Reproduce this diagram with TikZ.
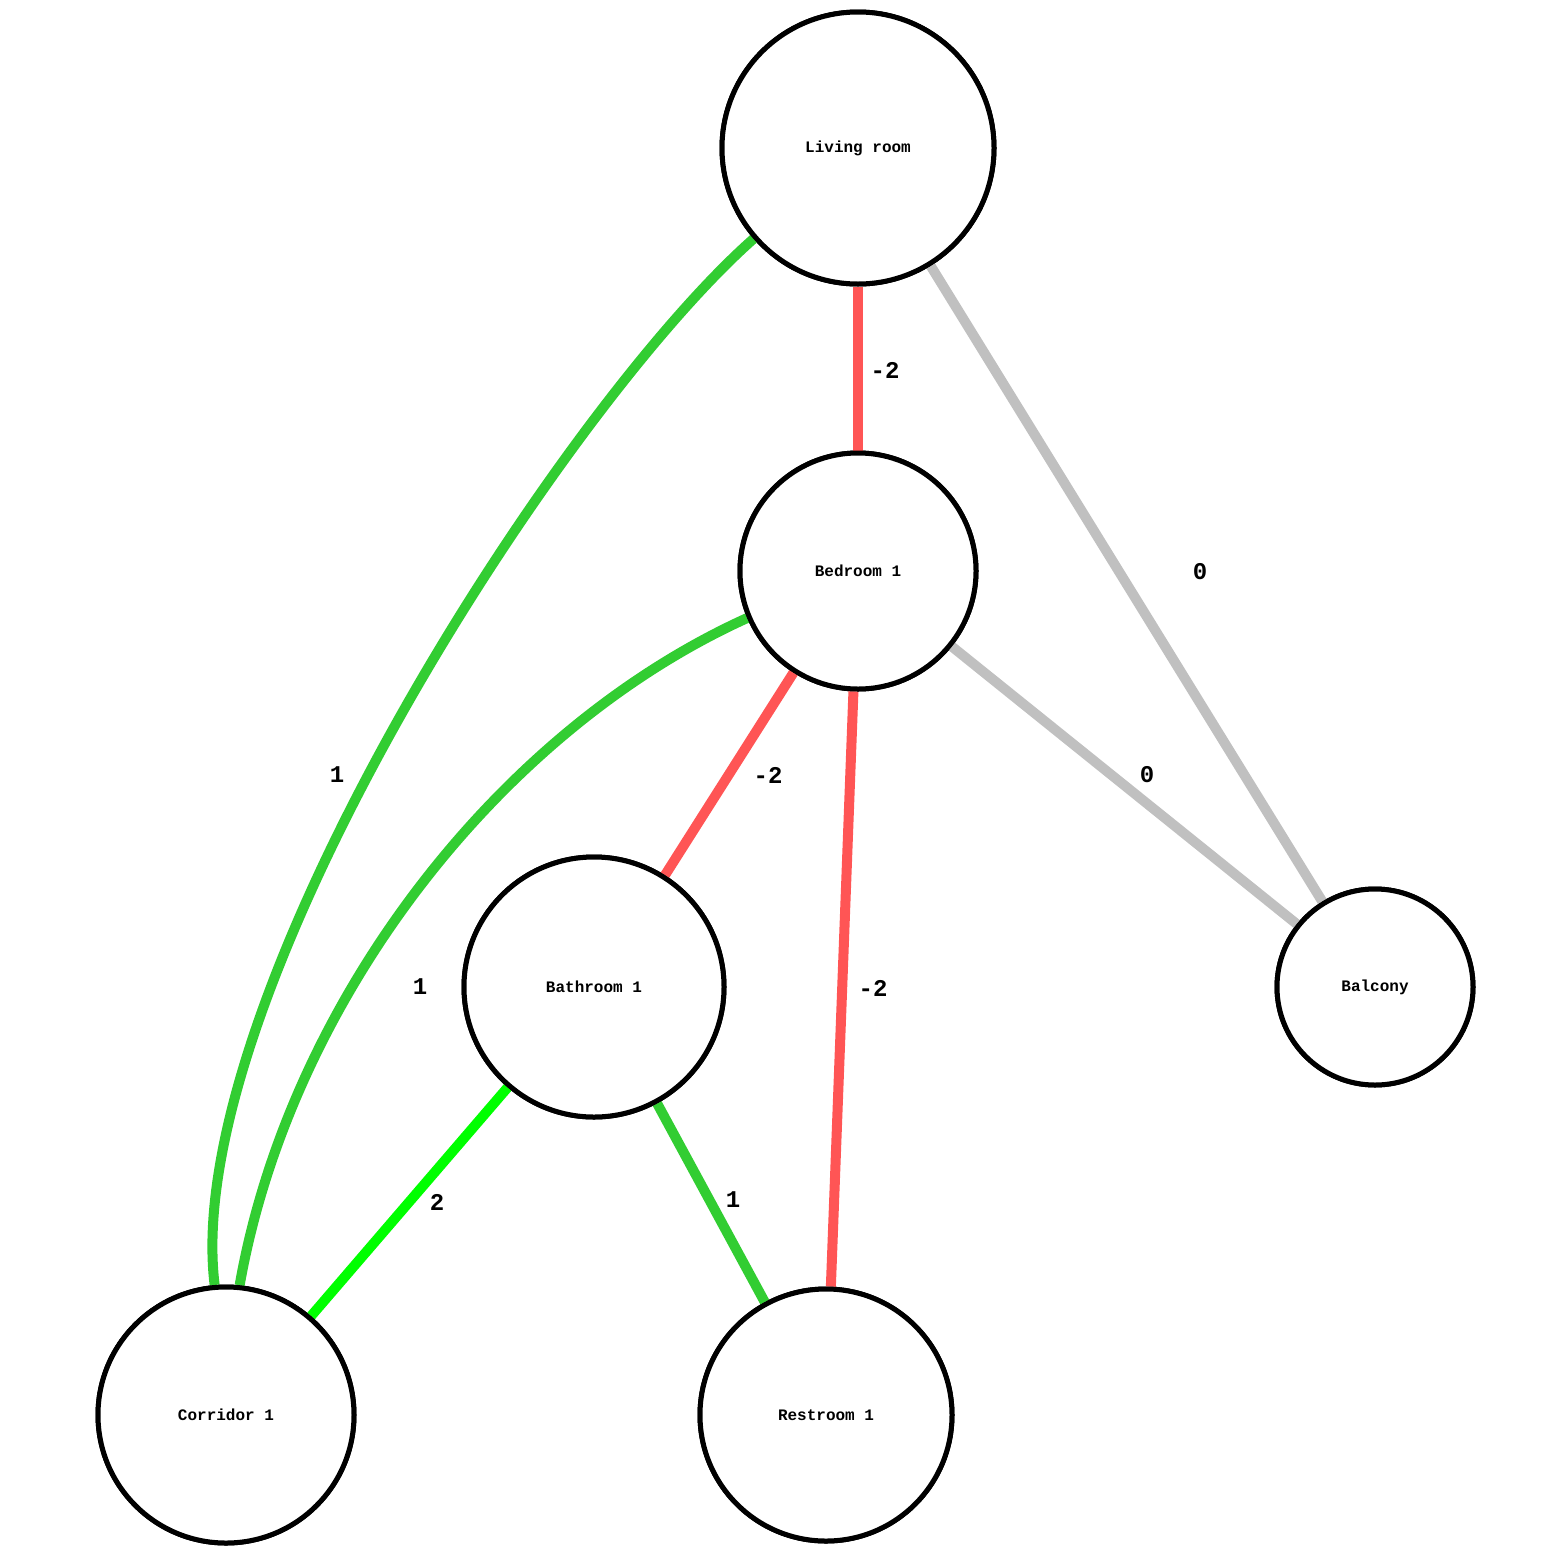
\documentclass[tikz,border=0pt]{standalone}
\usepackage{fontspec}
\setmainfont{Liberation Mono}
\definecolor{lg}{RGB}{50,205,50}
\definecolor{rd}{RGB}{255,85,85}
\definecolor{gy}{RGB}{192,192,192}
\definecolor{bg}{RGB}{0,255,0}
\begin{document}
\begin{tikzpicture}[x=1pt,y=-1pt,
  room/.style={circle,draw=black,line width=5pt,fill=white,inner sep=0pt,font=\bfseries\fontsize{16}{18}\selectfont},
  edge/.style={line width=10pt},
  lab/.style={font=\bfseries\fontsize{24}{26}\selectfont}]
\useasboundingbox (0,0) rectangle (1557,1558);
\node[room,minimum size=272pt] (lr) at (858,148) {Living room};
\node[room,minimum size=236pt] (b1) at (858,571) {Bedroom 1};
\node[room,minimum size=260pt] (ba) at (594,987) {Bathroom 1};
\node[room,minimum size=196pt] (bal) at (1375,987) {Balcony};
\node[room,minimum size=256pt] (co) at (226,1415) {Corridor 1};
\node[room,minimum size=252pt] (re) at (826,1415) {Restroom 1};
\begin{scope}[on background layer/.style={}]
\end{scope}
\draw[edge,lg] (lr.221) .. controls (560,410) and (180,1000) .. (co.95);
\draw[edge,lg] (b1.203) .. controls (500,730) and (290,1000) .. (co.84);
\draw[edge,rd] (lr) -- (b1);
\draw[edge,gy] (lr) -- (bal);
\draw[edge,rd] (b1) -- (ba);
\draw[edge,rd] (b1) -- (re);
\draw[edge,gy] (b1) -- (bal);
\draw[edge,bg] (ba) -- (co);
\draw[edge,lg] (ba) -- (re);
\node[room,minimum size=272pt] at (lr) {Living room};
\node[room,minimum size=236pt] at (b1) {Bedroom 1};
\node[room,minimum size=260pt] at (ba) {Bathroom 1};
\node[room,minimum size=196pt] at (bal) {Balcony};
\node[room,minimum size=256pt] at (co) {Corridor 1};
\node[room,minimum size=252pt] at (re) {Restroom 1};
\node[lab] (l1) at (885,370) {-2};
\node[lab] (l2) at (1200,572) {0};
\node[lab] (l3) at (337,775) {1};
\node[lab] (l4) at (768,775) {-2};
\node[lab] (l5) at (1147,775) {0};
\node[lab] (l6) at (420,987) {1};
\node[lab] (l7) at (873,988) {-2};
\node[lab] (l8) at (437,1202) {2};
\node[lab] (l9) at (733,1200) {1};
\end{tikzpicture}
\end{document}
